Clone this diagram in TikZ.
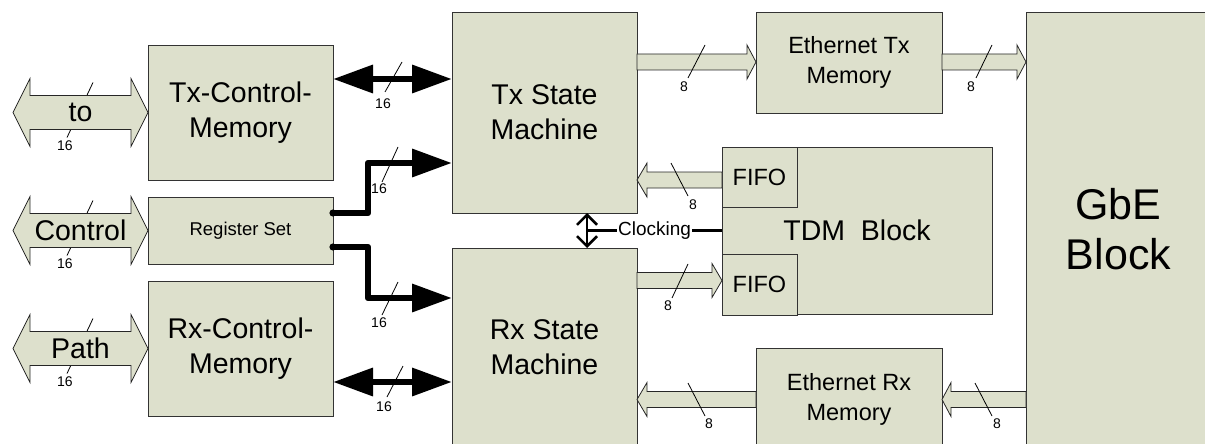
\documentclass[tikz,border=0pt]{standalone}
\usepackage{fontspec}
\setmainfont{Liberation Sans}
\usetikzlibrary{arrows.meta,calc}
\definecolor{boxfill}{RGB}{221,224,204}
\tikzset{
  bighead/.tip={Triangle[length=40pt,width=27pt]},
  barbtip/.tip={Straight Barb[length=10pt,width=20pt]}
}
\begin{document}
\begin{tikzpicture}[x=1pt,y=-1pt,
  box/.style={draw=black!80, fill=boxfill, line width=0.9pt, inner sep=0pt, outer sep=0pt,
    align=center, anchor=north west, font=\fontsize{28.5}{35}\selectfont},
  hollow/.style={draw=black!85, fill=boxfill, line width=0.8pt, line join=miter},
  tick/.style={draw=black, line width=0.8pt},
  lbl/.style={font=\fontsize{14}{16}\selectfont, inner sep=0pt},
  bigtxt/.style={font=\fontsize{28.5}{35}\selectfont, inner sep=0pt},
  bus/.style={line width=6.5pt, line join=round}
]
\useasboundingbox (0,0) rectangle (1205,444);
\clip (0,0) rectangle (1205,444);

% ---------- boxes ----------
\node[box, minimum width=185pt, minimum height=135pt] (txc) at (148,45) {Tx-Control-\\Memory};
\node[box, minimum width=185pt, minimum height=67pt, font=\fontsize{18.5}{22}\selectfont] (reg) at (148,197) {Register Set};
\node[box, minimum width=185pt, minimum height=135pt] (rxc) at (148,281) {Rx-Control-\\Memory};
\node[box, minimum width=185pt, minimum height=201pt] (txsm) at (452,12) {Tx State\\Machine};
\node[box, minimum width=185pt, minimum height=199pt] (rxsm) at (452,248) {Rx State\\Machine};
\node[box, minimum width=186pt, minimum height=101pt, font=\fontsize{23.5}{30}\selectfont] (ethtx) at (756,12) {Ethernet Tx\\Memory};
\node[box, minimum width=270pt, minimum height=167pt] (tdm) at (722,147) {TDM\ \ Block};
\node[box, minimum width=75pt, minimum height=60pt, font=\fontsize{23.5}{28}\selectfont] (fifo1) at (722,147) {FIFO};
\node[box, minimum width=75pt, minimum height=61pt, font=\fontsize{23.5}{28}\selectfont] (fifo2) at (722,254) {FIFO};
\node[box, minimum width=186pt, minimum height=103pt, font=\fontsize{23.5}{30}\selectfont] (ethrx) at (756,348) {Ethernet Rx\\Memory};
\node[box, minimum width=185pt, minimum height=434pt, font=\fontsize{43}{50}\selectfont] (gbe) at (1026,12) {GbE\\Block};

% ---------- left fat double arrows ----------
\foreach \b/\t in {txc/to, reg/Control, rxc/Path}{
  \draw[tick] (\b.west) ++(-55,-30) -- ++(-26,55);
  \draw[hollow] (\b.west) -- ++(-17,-34) -- ++(0,17) -- ++(-101,0) -- ++(0,-17) -- ++(-17,34)
     -- ++(17,34) -- ++(0,-17) -- ++(101,0) -- ++(0,17) -- cycle;
  \path (\b.west) ++(-67.5,0) node[bigtxt] (\t) {\t};
  \path (\b.west) ++(-83,33.5) node[lbl] {16};
}

% ---------- hollow 8-bit arrows ----------
% Tx SM -> Ethernet Tx
\draw[hollow] (txsm.east |- 0,62) ++(0,-8) -- ++(110,0) -- ++(0,-9) -- ++(9,17) -- ++(-9,17) -- ++(0,-9) -- ++(-110,0) -- cycle;
% Ethernet Tx -> GbE
\draw[hollow] (ethtx.east |- 0,62) ++(0,-8) -- ++(75,0) -- ++(0,-9) -- ++(9,17) -- ++(-9,17) -- ++(0,-9) -- ++(-75,0) -- cycle;
% FIFO -> Tx SM
\draw[hollow] (fifo1.west |- 0,180) ++(0,-8) -- ++(-75,0) -- ++(0,-9) -- ++(-10,17) -- ++(10,17) -- ++(0,-9) -- ++(75,0) -- cycle;
% Rx SM -> FIFO
\draw[hollow] (rxsm.east |- 0,280.5) ++(0,-8) -- ++(75,0) -- ++(0,-9) -- ++(10,17) -- ++(-10,17) -- ++(0,-9) -- ++(-75,0) -- cycle;
% Ethernet Rx -> Rx SM
\draw[hollow] (ethrx.west |- 0,399.5) ++(0,-8) -- ++(-109,0) -- ++(0,-9) -- ++(-10,17) -- ++(10,17) -- ++(0,-9) -- ++(109,0) -- cycle;
% GbE -> Ethernet Rx
\draw[hollow] (gbe.west |- 0,399.5) ++(0,-8) -- ++(-75,0) -- ++(0,-9) -- ++(-9,17) -- ++(9,17) -- ++(0,-9) -- ++(75,0) -- cycle;

% ticks and labels of 8-bit arrows
\draw[tick] (705,45) -- (688,78);  \node[lbl] at (684,87) {8};
\draw[tick] (992,45) -- (976,78);  \node[lbl] at (971,87) {8};
\draw[tick] (671,163) -- (688,196); \node[lbl] at (693,205) {8};
\draw[tick] (688,264) -- (672,298); \node[lbl] at (668,306) {8};
\draw[tick] (688,383) -- (705,416); \node[lbl] at (709,424) {8};
\draw[tick] (975,383) -- (992,416); \node[lbl] at (997,424) {8};

% ---------- black 16-bit buses ----------
\draw[bus, {bighead}-{bighead}] (txc.east |- 0,79) -- (txsm.west |- 0,79);
\draw[bus, {bighead}-{bighead}] (rxc.east |- 0,382) -- (rxsm.west |- 0,382);
\coordinate (r1) at ([yshift=17.5pt]reg.east);
\coordinate (r2) at ([yshift=-16.5pt]reg.east);
\fill (r1) circle (3.6pt);
\fill (r2) circle (3.6pt);
\draw[bus, -{bighead}] (r1) -- ++(35,0) |- (txsm.west |- 0,163);
\draw[bus, -{bighead}] (r2) -- ++(35,0) |- (rxsm.west |- 0,298);

\draw[tick] (402,62) -- (385,92);  \node[lbl] at (383,104) {16};
\draw[tick] (403,366) -- (387,397); \node[lbl] at (384,407) {16};
\draw[tick] (398,147) -- (382,182); \node[lbl] at (379,189) {16};
\draw[tick] (398,282) -- (382,315); \node[lbl] at (379,323) {16};

% ---------- clocking ----------
\coordinate (clk) at (587,230.5);
\draw[line width=2.5pt, {barbtip}-{barbtip}] (txsm.south -| clk) -- (rxsm.north -| clk);
\draw[line width=2.5pt] (clk) -- node[fill=white, inner sep=1.5pt, font=\fontsize{19}{22}\selectfont] (clklbl) {Clocking} (tdm.west |- clk);
\end{tikzpicture}
\end{document}
